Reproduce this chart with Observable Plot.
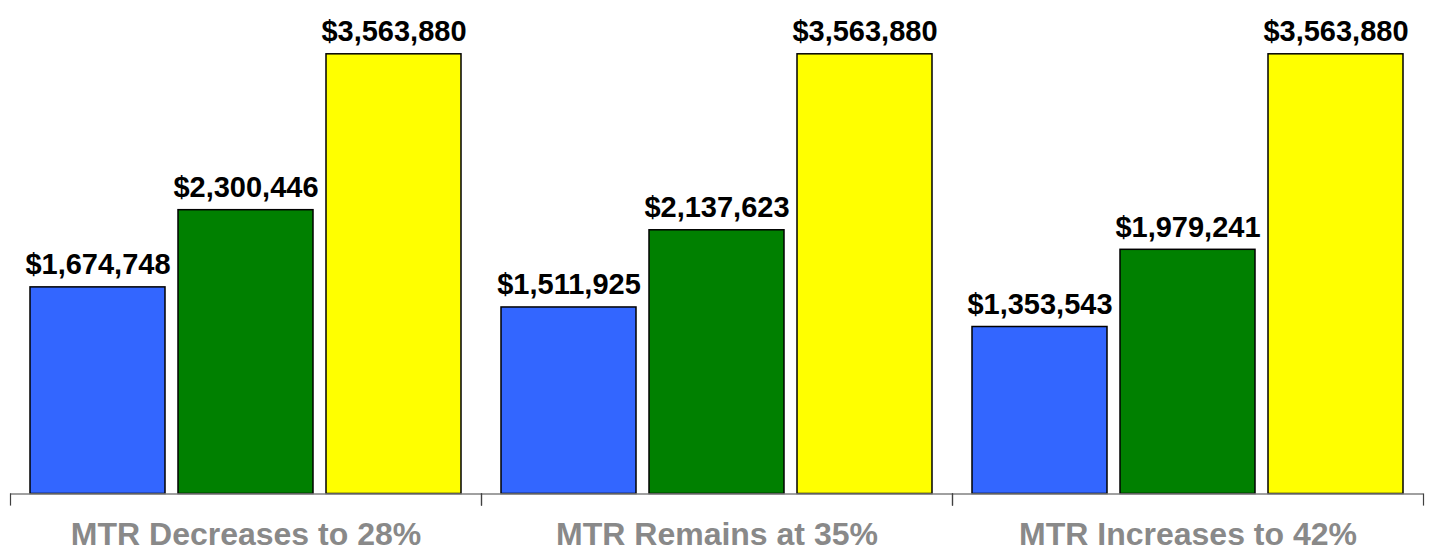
<!DOCTYPE html>
<html>
<head>
<meta charset="utf-8">
<script src="https://cdn.jsdelivr.net/npm/d3@7"></script>
<script src="https://cdn.jsdelivr.net/npm/@observablehq/plot@0.6"></script>
<style>
  html, body { margin: 0; padding: 0; background: #fff; overflow: hidden; }
  svg { display: block; overflow: visible; }
</style>
</head>
<body>
<div id="chart"></div>
<script>
const scenarios = ["MTR Decreases to 28%", "MTR Remains at 35%", "MTR Increases to 42%"];
const seriesNames = ["Series 1", "Series 2", "Series 3"];
const seriesColors = ["#3366FF", "#008000", "#FFFF00"];
const series1Values = [1674748, 1511925, 1353543];
const series2Values = [2300446, 2137623, 1979241];
const series3Values = [3563880, 3563880, 3563880];

const allValues = [series1Values, series2Values, series3Values];
const data = [];
scenarios.forEach((s, i) => {
  seriesNames.forEach((n, j) => {
    data.push({scenario: s, series: n, value: allValues[j][i]});
  });
});

const fmt = d3.format(",");

const chart = Plot.plot({
  width: 1433,
  height: 548,
  marginTop: 0,
  marginBottom: 54.5,
  marginLeft: 9,
  marginRight: 9,
  style: {fontFamily: "Arial, 'Liberation Sans', sans-serif", background: "#fff"},
  fx: {domain: scenarios, padding: 0, label: null},
  x: {domain: seriesNames, paddingInner: 0.09, paddingOuter: 0.135, axis: null},
  y: {domain: [0, 4000000], axis: null},
  color: {domain: seriesNames, range: seriesColors},
  marks: [
    Plot.barY(data, {fx: "scenario", x: "series", y: "value", fill: "series", stroke: "#000", strokeWidth: 1.5}),
    Plot.text(data, {
      fx: "scenario", x: "series", y: "value",
      text: d => "$" + fmt(d.value),
      lineAnchor: "bottom", dy: -13,
      fontSize: 29, fontWeight: "bold", fill: "#000"
    }),
    Plot.ruleY([0], {stroke: "#808080", strokeWidth: 1.5}),
    Plot.frame({anchor: "left", insetTop: 493.5, insetBottom: -11, stroke: "#404040", strokeWidth: 1.2}),
    Plot.frame({anchor: "right", insetTop: 493.5, insetBottom: -11, stroke: "#404040", strokeWidth: 1.2}),
    Plot.axisFx({anchor: "bottom", tickSize: 0, tickPadding: 28, fontSize: 32, fontWeight: "bold", color: "#898989", label: null})
  ]
});
document.getElementById("chart").appendChild(chart);
</script>
</body>
</html>
